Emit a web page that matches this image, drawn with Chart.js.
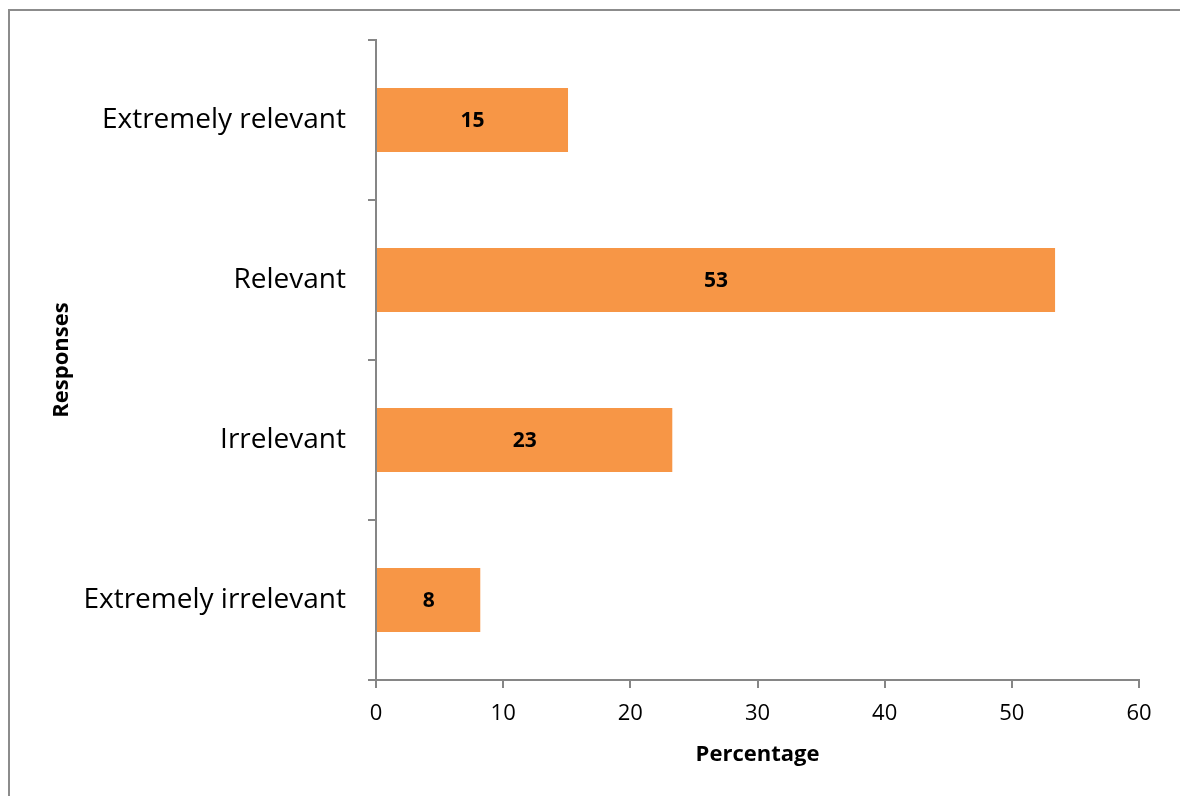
<!DOCTYPE html>
<html>
<head>
<meta charset="utf-8">
<script src="https://cdn.jsdelivr.net/npm/chart.js@4"></script>
<style>
  html, body { margin: 0; padding: 0; background: #fff; overflow: hidden; }
  #frame { position: absolute; left: 8px; top: 9px; width: 1300px; height: 900px; border: 2px solid #8c8c8c; box-sizing: border-box; }
  #wrap { position: absolute; left: 0; top: 0; width: 1180px; height: 796px; }
</style>
</head>
<body>
<div id="frame"></div>
<div id="wrap"><canvas id="chart" width="1180" height="796"></canvas></div>
<script>
// data
const categories = ['Extremely relevant', 'Relevant', 'Irrelevant', 'Extremely irrelevant'];
const percentValues = [15.1, 53.4, 23.3, 8.2];
const percentLabels = ['15', '53', '23', '8'];

const FONT = '"Open Sans", sans-serif';
const AXIS_GREY = '#868686';

// draws the bold numbers in the middle of each bar
const barLabels = {
  id: 'barLabels',
  afterDatasetsDraw(chart) {
    const ctx = chart.ctx;
    const meta = chart.getDatasetMeta(0);
    ctx.save();
    ctx.font = 'bold 21px ' + FONT;
    ctx.fillStyle = '#000';
    ctx.textAlign = 'center';
    ctx.textBaseline = 'middle';
    meta.data.forEach((bar, i) => {
      const p = bar.getProps(['x', 'y', 'base'], true);
      ctx.fillText(percentLabels[i], (p.x + p.base) / 2, p.y + 1);
    });
    ctx.restore();
  }
};

new Chart(document.getElementById('chart'), {
  type: 'bar',
  data: {
    labels: categories,
    datasets: [{
      data: percentValues,
      backgroundColor: '#F79646',
      borderWidth: 0,
      barPercentage: 0.4,
      categoryPercentage: 1
    }]
  },
  options: {
    indexAxis: 'y',
    responsive: false,
    animation: false,
    layout: { padding: { top: 40, right: 41, left: 0, bottom: 0 } },
    plugins: { legend: { display: false }, tooltip: { enabled: false } },
    scales: {
      x: {
        min: 0, max: 60,
        ticks: { stepSize: 10, color: '#000', font: { family: FONT, size: 22 }, padding: 13 },
        grid: { drawOnChartArea: false, drawTicks: true, tickLength: 8, color: AXIS_GREY, lineWidth: 2 },
        border: { color: AXIS_GREY, width: 2 },
        title: { display: true, text: 'Percentage', color: '#000', font: { family: FONT, size: 22, weight: 'bold' }, padding: { top: 0, bottom: 28 } },
        afterFit(scale) { scale.height = 116; }
      },
      y: {
        ticks: { color: '#000', font: { family: FONT, size: 28 }, padding: 22 },
        grid: { offset: true, drawOnChartArea: false, drawTicks: true, tickLength: 8, color: AXIS_GREY, lineWidth: 2 },
        border: { color: AXIS_GREY, width: 2 },
        title: { display: true, text: 'Responses', color: '#000', font: { family: FONT, size: 22, weight: 'bold' }, padding: { top: 49, bottom: 0 } },
        afterFit(scale) { scale.width = 376; }
      }
    }
  },
  plugins: [barLabels]
});
</script>
</body>
</html>
